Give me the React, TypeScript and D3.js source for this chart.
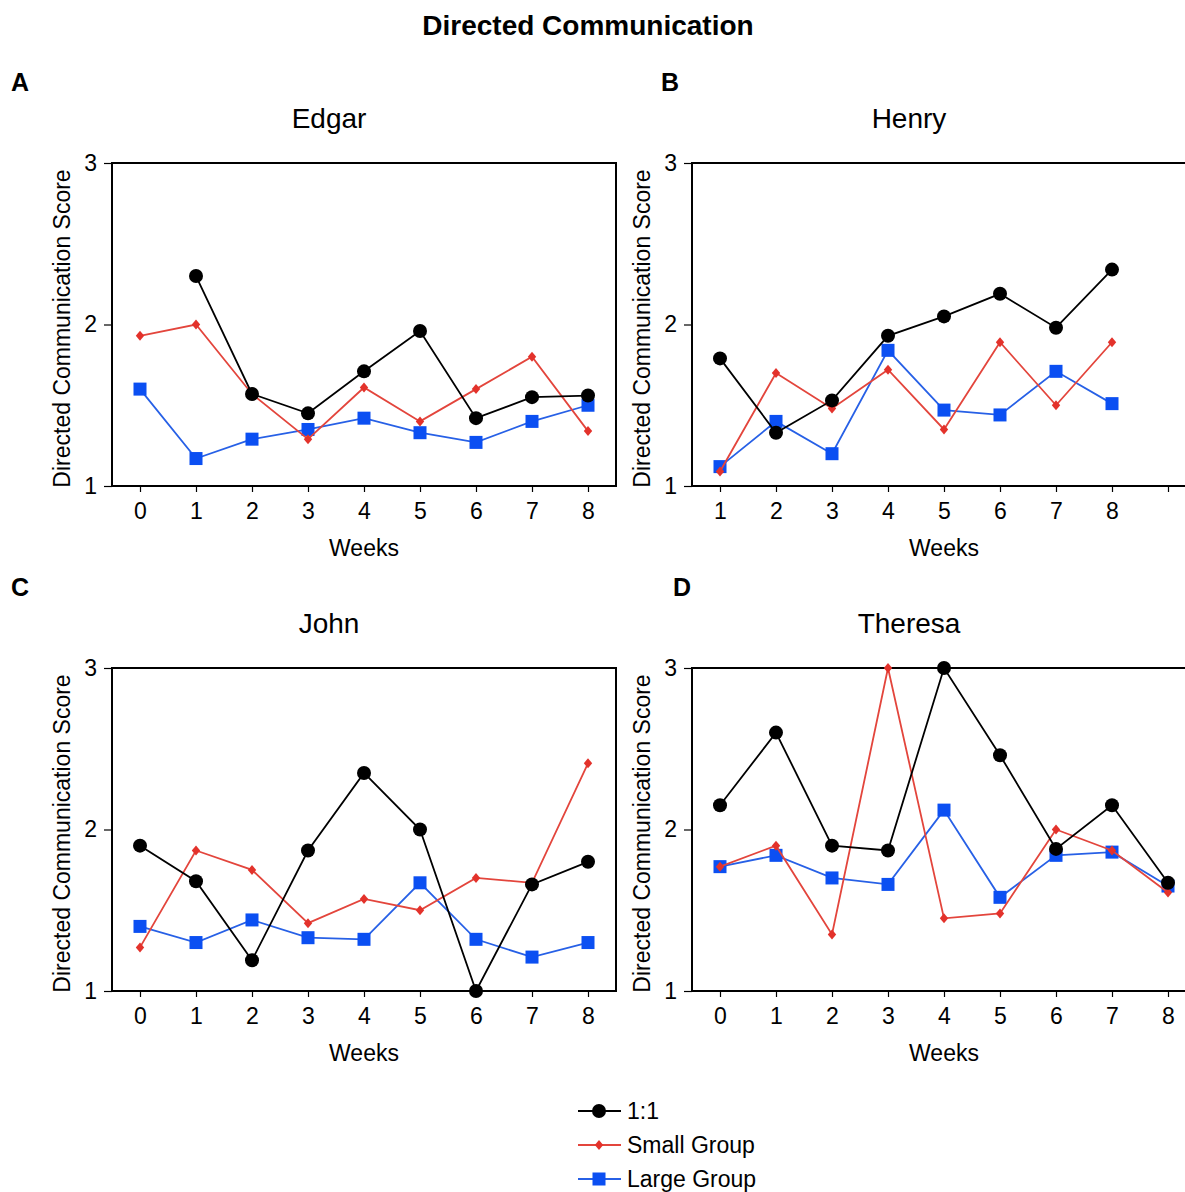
import * as d3 from 'd3';
import { useRef, useEffect } from 'react';

// --- data ---
const seriesNames = ["1:1", "Small Group", "Large Group"];
const weeksFromZero = [0, 1, 2, 3, 4, 5, 6, 7, 8];
const weeksFromOne = [1, 2, 3, 4, 5, 6, 7, 8];

const edgarOneToOne = [null, 2.30, 1.57, 1.45, 1.71, 1.96, 1.42, 1.55, 1.56];
const edgarSmall = [1.93, 2.0, 1.57, 1.29, 1.61, 1.40, 1.60, 1.80, 1.34];
const edgarLarge = [1.60, 1.17, 1.29, 1.35, 1.42, 1.33, 1.27, 1.40, 1.50];

const henryOneToOne = [1.79, 1.33, 1.53, 1.93, 2.05, 2.19, 1.98, 2.34];
const henrySmall = [1.09, 1.70, 1.48, 1.72, 1.35, 1.89, 1.50, 1.89];
const henryLarge = [1.12, 1.40, 1.20, 1.84, 1.47, 1.44, 1.71, 1.51];

const johnOneToOne = [1.90, 1.68, 1.19, 1.87, 2.35, 2.00, 1.00, 1.66, 1.80];
const johnSmall = [1.27, 1.87, 1.75, 1.42, 1.57, 1.50, 1.70, 1.67, 2.41];
const johnLarge = [1.40, 1.30, 1.44, 1.33, 1.32, 1.67, 1.32, 1.21, 1.30];

const theresaOneToOne = [2.15, 2.60, 1.90, 1.87, 3.0, 2.46, 1.88, 2.15, 1.67];
const theresaSmall = [1.77, 1.90, 1.35, 3.0, 1.45, 1.48, 2.00, 1.87, 1.61];
const theresaLarge = [1.77, 1.84, 1.70, 1.66, 2.12, 1.58, 1.84, 1.86, 1.65];

const yTicks = [1, 2, 3];

const panels = [
  { letter: "A", name: "Edgar", weeks: weeksFromZero, ticks: weeksFromZero, domain: [-0.5, 8.5], series: [edgarOneToOne, edgarSmall, edgarLarge] },
  { letter: "B", name: "Henry", weeks: weeksFromOne, ticks: [1, 2, 3, 4, 5, 6, 7, 8, 9], domain: [0.5, 9.5], series: [henryOneToOne, henrySmall, henryLarge] },
  { letter: "C", name: "John", weeks: weeksFromZero, ticks: weeksFromZero, domain: [-0.5, 8.5], series: [johnOneToOne, johnSmall, johnLarge] },
  { letter: "D", name: "Theresa", weeks: weeksFromZero, ticks: weeksFromZero, domain: [-0.5, 8.5], series: [theresaOneToOne, theresaSmall, theresaLarge] },
];

const FONT = "'Liberation Sans', Arial, Helvetica, sans-serif";
const lineColors = ["#000000", "#e3453c", "#2760e6"];
const markerColors = ["#000000", "#e3322b", "#0b4ff2"];

function drawMarker(g: any, kind: number, x: number, y: number) {
  if (kind === 0) {
    g.append("circle").attr("cx", x).attr("cy", y).attr("r", 7).attr("fill", markerColors[0]);
  } else if (kind === 1) {
    g.append("path")
      .attr("d", `M${x},${y - 5}L${x + 4.2},${y}L${x},${y + 5}L${x - 4.2},${y}Z`)
      .attr("fill", markerColors[1]);
  } else {
    g.append("rect").attr("x", x - 6.5).attr("y", y - 6.5).attr("width", 13).attr("height", 13).attr("fill", markerColors[2]);
  }
}

export default function App() {
  const ref = useRef<SVGSVGElement>(null);

  useEffect(() => {
    const width = 1185;
    const height = 1192;
    const svg = d3.select(ref.current)
      .attr("width", width)
      .attr("height", height)
      .style("font-family", FONT);

    svg.selectAll("*").remove();

    svg.append("text")
      .attr("x", 588).attr("y", 35)
      .attr("text-anchor", "middle")
      .attr("font-size", 28).attr("font-weight", "bold")
      .text("Directed Communication");

    const frameW = 504;
    const frameH = 323;
    const origins = [[112, 163], [692, 163], [112, 668], [692, 668]];
    const letterX = [11, 661, 11, 673];

    panels.forEach((p, i) => {
      const [ox, oy] = origins[i];
      const g = svg.append("g").attr("transform", `translate(${ox},${oy})`);

      const x = d3.scaleLinear().domain(p.domain).range([0, frameW]);
      const y = d3.scaleLinear().domain([1, 3]).range([frameH, 0]);

      // panel letter + title
      svg.append("text")
        .attr("x", letterX[i]).attr("y", oy - 72)
        .attr("font-size", 25).attr("font-weight", "bold")
        .text(p.letter);
      svg.append("text")
        .attr("x", ox + frameW / 2 - 35).attr("y", oy - 35)
        .attr("text-anchor", "middle")
        .attr("font-size", 28)
        .text(p.name);

      // axes
      const xAxis = g.append("g")
        .attr("transform", `translate(0,${frameH})`)
        .call(d3.axisBottom(x).tickValues(p.ticks).tickSize(6).tickPadding(11)
          .tickFormat((d: any) => (p.weeks.includes(d) ? String(d) : "")));
      xAxis.select(".domain").remove();
      xAxis.selectAll("text").attr("font-size", 23).attr("font-family", FONT);
      xAxis.selectAll("line").attr("stroke-width", 1.2);

      const yAxis = g.append("g")
        .call(d3.axisLeft(y).tickValues(yTicks).tickSize(8).tickPadding(7).tickFormat(d3.format("d")));
      yAxis.select(".domain").remove();
      yAxis.selectAll("text").attr("font-size", 23).attr("font-family", FONT);
      yAxis.selectAll("line").attr("stroke-width", 1.2);

      g.append("rect")
        .attr("width", frameW).attr("height", frameH)
        .attr("fill", "none").attr("stroke", "#000").attr("stroke-width", 2);

      g.append("text")
        .attr("x", frameW / 2).attr("y", frameH + 70)
        .attr("text-anchor", "middle").attr("font-size", 23)
        .text("Weeks");

      g.append("text")
        .attr("transform", `translate(-42,${frameH / 2 + 4}) rotate(-90)`)
        .attr("text-anchor", "middle").attr("font-size", 23)
        .text("Directed Communication Score");

      // series: draw 1:1 last so it sits on top like the source
      [2, 1, 0].forEach(k => {
        const vals = p.series[k];
        const pts = p.weeks.map((w, j) => ({ w, v: vals[j] }));
        const line = d3.line<any>()
          .defined(d => d.v != null)
          .x(d => x(d.w))
          .y(d => y(d.v));
        g.append("path")
          .datum(pts)
          .attr("d", line)
          .attr("fill", "none")
          .attr("stroke", lineColors[k])
          .attr("stroke-width", 1.8);
        const mg = g.append("g");
        pts.filter(d => d.v != null).forEach(d => drawMarker(mg, k, x(d.w), y(d.v)));
      });
    });

    // legend
    const lg = svg.append("g");
    seriesNames.forEach((name, k) => {
      const ly = 1111 + k * 34;
      lg.append("line")
        .attr("x1", 578).attr("x2", 621).attr("y1", ly).attr("y2", ly)
        .attr("stroke", lineColors[k]).attr("stroke-width", 1.8);
      drawMarker(lg, k, 599, ly);
      lg.append("text")
        .attr("x", 627).attr("y", ly + 8)
        .attr("font-size", 23)
        .text(name);
    });
  }, []);

  return (
    <div style={{ position: "absolute", left: 0, top: 0, background: "#fff" }}>
      <svg ref={ref} style={{ display: "block" }}></svg>
    </div>
  );
}
